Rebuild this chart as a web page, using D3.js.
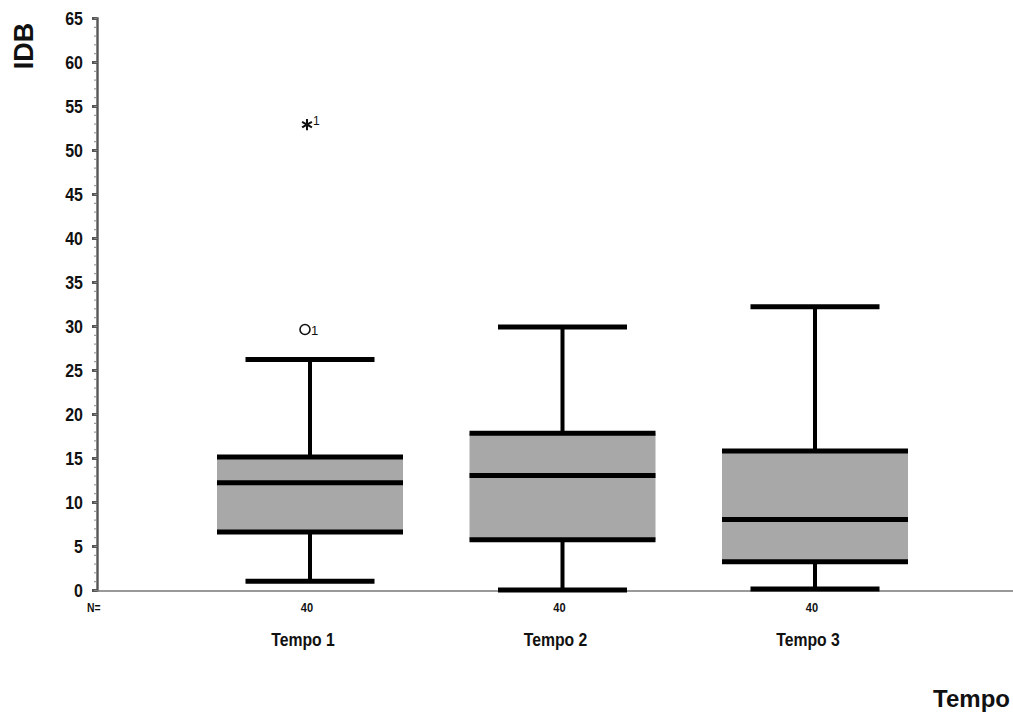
<!DOCTYPE html>
<html>
<head>
<meta charset="utf-8">
<script src="https://cdn.jsdelivr.net/npm/d3@7"></script>
<style>
  html, body { margin: 0; padding: 0; background: #fff; }
  svg { display: block; }
  text { font-family: "Liberation Sans", Arial, sans-serif; fill: #111; }
</style>
</head>
<body>
<svg id="chart" width="1013" height="720"></svg>
<script>
// Box plot summary per time point (IDB score)
const categories = ["Tempo 1", "Tempo 2", "Tempo 3"];
const q1Values     = [6.6, 5.7, 3.2];
const medianValues = [12.2, 13.0, 8.0];
const q3Values     = [15.1, 17.8, 15.8];
const lowWhisker   = [1, 0, 0.1];
const highWhisker  = [26.2, 29.9, 32.2];
const nValues      = [40, 40, 40];
// Outliers: category index, value, case label, marker kind
const outlierCat   = [0, 0];
const outlierVal   = [29.6, 53];
const outlierLabel = ["1", "1"];
const outlierKind  = ["circle", "star"];
const yTicks = d3.range(0, 66, 5);

const svg = d3.select("#chart");

const y = d3.scaleLinear().domain([0, 65]).range([590, 18]);
const x = d3.scalePoint().domain(categories).range([310, 815]);
const boxW = 186, capW = 129;
const axisX = 97;

// condensed text helper: horizontal squeeze around the anchor point
function squeeze(sel, tx, ty, sx) {
  sel.attr("x", 0).attr("y", 0)
     .attr("transform", `translate(${tx},${ty}) scale(${sx},1)`);
}

// Y axis: major ticks with labels, minor ticks every unit
const yAxis = d3.axisLeft(y).tickValues(yTicks).tickSize(5);
const gy = svg.append("g").attr("transform", `translate(${axisX},0)`).call(yAxis);
gy.select(".domain").attr("stroke", "#555").attr("stroke-width", 2.4);
gy.selectAll(".tick line").attr("stroke", "#555").attr("stroke-width", 3);
gy.selectAll(".tick text")
  .style("font-size", "19px").style("font-weight", "bold")
  .attr("dy", null)
  .call(squeeze, -14, 6, 0.84);
svg.append("g").attr("transform", `translate(${axisX},0)`)
  .call(d3.axisLeft(y).tickValues(d3.range(0, 66, 1)).tickSize(3).tickFormat(""))
  .call(g => g.select(".domain").remove())
  .selectAll(".tick line").attr("stroke", "#888").attr("stroke-width", 1);

// X baseline
svg.append("line")
  .attr("x1", axisX).attr("x2", 1013)
  .attr("y1", y(0) + 1).attr("y2", y(0) + 1)
  .attr("stroke", "#777").attr("stroke-width", 1.6);

const data = categories.map((c, i) => ({
  cat: c, q1: q1Values[i], med: medianValues[i], q3: q3Values[i],
  lo: lowWhisker[i], hi: highWhisker[i], n: nValues[i]
}));

const g = svg.append("g").selectAll("g").data(data).join("g");

// whisker stems
g.append("line")
  .attr("x1", d => x(d.cat)).attr("x2", d => x(d.cat))
  .attr("y1", d => y(d.hi)).attr("y2", d => y(d.lo))
  .attr("stroke", "#000").attr("stroke-width", 4);
// whisker caps
["hi", "lo"].forEach(k => {
  g.append("line")
    .attr("x1", d => x(d.cat) - capW / 2).attr("x2", d => x(d.cat) + capW / 2)
    .attr("y1", d => y(d[k])).attr("y2", d => y(d[k]))
    .attr("stroke", "#000").attr("stroke-width", 5);
});
// box body
g.append("rect")
  .attr("x", d => x(d.cat) - boxW / 2).attr("width", boxW)
  .attr("y", d => y(d.q3)).attr("height", d => y(d.q1) - y(d.q3))
  .attr("fill", "#a8a8a8");
// quartile and median bars
["q1", "med", "q3"].forEach(k => {
  g.append("line")
    .attr("x1", d => x(d.cat) - boxW / 2).attr("x2", d => x(d.cat) + boxW / 2)
    .attr("y1", d => y(d[k])).attr("y2", d => y(d[k]))
    .attr("stroke", "#000").attr("stroke-width", 5);
});
// N counts
g.append("text")
  .attr("text-anchor", "middle")
  .style("font-size", "13px").style("font-weight", "bold")
  .text(d => d.n)
  .each(function(d) { d3.select(this).call(squeeze, x(d.cat) - 3, 612, 0.85); });
// category labels
g.append("text")
  .attr("text-anchor", "middle")
  .style("font-size", "19px").style("font-weight", "bold")
  .text(d => d.cat)
  .each(function(d) { d3.select(this).call(squeeze, x(d.cat) - 7, 646, 0.83); });

svg.append("text")
  .attr("text-anchor", "start")
  .style("font-size", "13px").style("font-weight", "bold")
  .text("N=")
  .call(squeeze, 87, 612, 0.8);

// outliers
outlierVal.forEach((v, i) => {
  const cx = x(categories[outlierCat[i]]) - 5;
  const cy = y(v);
  if (outlierKind[i] === "circle") {
    svg.append("circle").attr("cx", cx).attr("cy", cy).attr("r", 5)
      .attr("fill", "none").attr("stroke", "#111").attr("stroke-width", 1.6);
    svg.append("text").attr("x", cx + 6).attr("y", cy + 5)
      .style("font-size", "13px")
      .text(outlierLabel[i]);
  } else {
    svg.append("path")
      .attr("d", d3.symbol().type(d3.symbolAsterisk).size(90))
      .attr("transform", `translate(${cx + 2},${cy + 1})`)
      .attr("stroke", "#111").attr("stroke-width", 2).attr("fill", "none");
    svg.append("text").attr("x", cx + 8).attr("y", cy + 1)
      .style("font-size", "12px")
      .text(outlierLabel[i]);
  }
});

// axis titles
svg.append("text")
  .attr("transform", "translate(33,46) rotate(-90)")
  .attr("text-anchor", "middle")
  .style("font-size", "27px").style("font-weight", "bold")
  .text("IDB");
svg.append("text")
  .attr("x", 1010).attr("y", 707)
  .attr("text-anchor", "end")
  .style("font-size", "24px")
  .style("font-weight", "bold")
  .text("Tempo");
</script>
</body>
</html>
